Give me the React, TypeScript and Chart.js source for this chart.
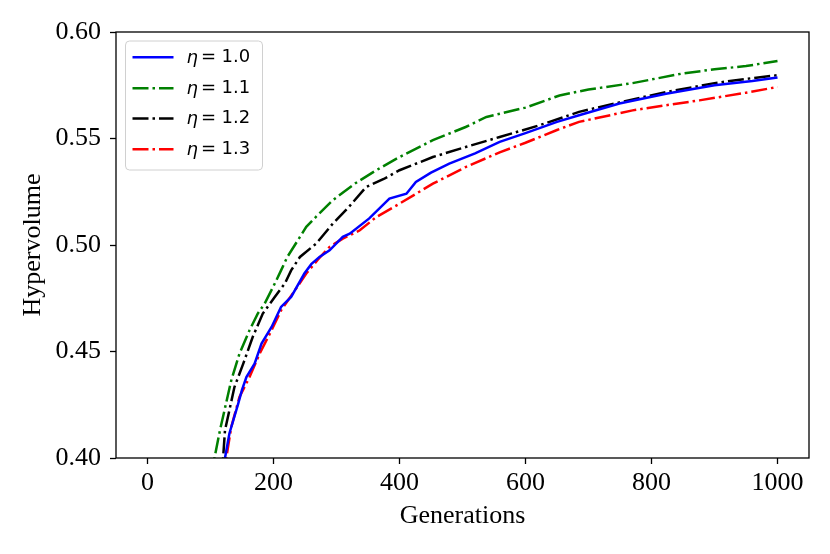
import React, { useEffect, useRef } from "react";
import { Chart, registerables } from "chart.js";

Chart.register(...registerables);

// ---------- data ----------
const seriesLabels = ["1.0", "1.1", "1.2", "1.3"];
const seriesColors = ["#0000ff", "#008000", "#000000", "#ff0000"];

const gens10 = [115, 123, 130, 144, 150, 157, 170, 181, 197, 212, 228, 249, 260, 273, 289, 310, 321, 352, 384, 411, 426, 450, 479, 520, 559, 600, 650, 685, 749, 823, 900, 960, 1000];
const hv10 = [0.39, 0.4, 0.4115, 0.4255, 0.432, 0.438, 0.4443, 0.4537, 0.4615, 0.4709, 0.4756, 0.4866, 0.491, 0.4944, 0.4975, 0.5038, 0.5053, 0.5125, 0.5218, 0.5241, 0.5296, 0.534, 0.5382, 0.543, 0.5484, 0.5525, 0.5578, 0.5609, 0.5664, 0.571, 0.575, 0.577, 0.5786];

const gens11 = [100, 107, 115, 133, 146, 162, 175, 186, 202, 212, 222, 242, 252, 270, 294, 330, 363, 400, 453, 505, 538, 600, 654, 700, 770, 849, 900, 950, 1000];
const hv11 = [0.39, 0.401, 0.413, 0.4365, 0.449, 0.46, 0.4678, 0.4725, 0.4819, 0.4881, 0.4944, 0.5038, 0.5085, 0.514, 0.521, 0.529, 0.5351, 0.5413, 0.5492, 0.5554, 0.5601, 0.5645, 0.5702, 0.573, 0.576, 0.5805, 0.5825, 0.584, 0.5864];

const gens12 = [112, 120, 123, 138, 152, 167, 183, 202, 218, 228, 242, 268, 294, 320, 347, 375, 400, 453, 505, 559, 620, 685, 750, 823, 900, 950, 1000];
const hv12 = [0.39, 0.4, 0.413, 0.4333, 0.4443, 0.4568, 0.4678, 0.4756, 0.4819, 0.4881, 0.4944, 0.5007, 0.51, 0.518, 0.5272, 0.531, 0.5351, 0.5413, 0.546, 0.5507, 0.556, 0.5625, 0.567, 0.5718, 0.576, 0.578, 0.5797];

const gens13 = [119, 125, 133, 146, 162, 178, 197, 212, 234, 252, 270, 289, 310, 337, 363, 400, 453, 505, 559, 600, 650, 685, 770, 820, 876, 950, 1000];
const hv13 = [0.39, 0.4, 0.4146, 0.4287, 0.438, 0.449, 0.46, 0.4693, 0.4787, 0.4866, 0.493, 0.4991, 0.503, 0.5069, 0.5131, 0.5194, 0.5288, 0.5366, 0.5435, 0.548, 0.554, 0.5578, 0.5632, 0.5655, 0.5679, 0.5715, 0.5742];

const xTicks = [0, 200, 400, 600, 800, 1000];
const yTicks = [0.4, 0.45, 0.5, 0.55, 0.6];

const seriesGens = [gens10, gens11, gens12, gens13];
const seriesValues = [hv10, hv11, hv12, hv13];
const seriesDash = [[], [16, 4, 2.5, 4], [16, 4, 2.5, 4], [16, 4, 2.5, 4]];

const tickFont = { family: "'Liberation Serif', 'Times New Roman', serif", size: 26, lineHeight: 1.0 };

const framePlugin = {
  id: "frameAndLegend",
  afterDatasetsDraw(chart: any) {
    const { ctx, chartArea: a } = chart;
    ctx.save();
    // frame
    ctx.strokeStyle = "#000";
    ctx.lineWidth = 1.3;
    ctx.setLineDash([]);
    ctx.strokeRect(a.left, a.top, a.right - a.left, a.bottom - a.top);

    // legend box
    const bx = a.left + 9.5;
    const by = a.top + 9;
    const bw = 137;
    const bh = 129;
    const r = 4;
    ctx.beginPath();
    ctx.moveTo(bx + r, by);
    ctx.lineTo(bx + bw - r, by);
    ctx.quadraticCurveTo(bx + bw, by, bx + bw, by + r);
    ctx.lineTo(bx + bw, by + bh - r);
    ctx.quadraticCurveTo(bx + bw, by + bh, bx + bw - r, by + bh);
    ctx.lineTo(bx + r, by + bh);
    ctx.quadraticCurveTo(bx, by + bh, bx, by + bh - r);
    ctx.lineTo(bx, by + r);
    ctx.quadraticCurveTo(bx, by, bx + r, by);
    ctx.closePath();
    ctx.fillStyle = "rgba(255,255,255,0.85)";
    ctx.fill();
    ctx.strokeStyle = "#d0d0d0";
    ctx.lineWidth = 1;
    ctx.stroke();

    const rowY = [25.3, 56.3, 86.5, 117.3];
    chart.data.datasets.forEach((ds: any, i: number) => {
      const y = a.top + rowY[i];
      ctx.beginPath();
      ctx.strokeStyle = ds.borderColor;
      ctx.lineWidth = 2.5;
      ctx.setLineDash(ds.borderDash || []);
      ctx.moveTo(a.left + 16.5, y);
      ctx.lineTo(a.left + 57.5, y);
      ctx.stroke();
      ctx.setLineDash([]);
      ctx.fillStyle = "#000";
      ctx.textBaseline = "middle";
      ctx.textAlign = "left";
      ctx.font = "italic 18px 'DejaVu Sans'";
      ctx.fillText("η", a.left + 70.5, y + 1);
      ctx.font = "18px 'DejaVu Sans'";
      ctx.fillText("=", a.left + 85, y);
      ctx.fillText(seriesLabels[i], a.left + 105.5, y);
    });
    ctx.restore();
  },
};

export default function App() {
  const canvasRef = useRef<HTMLCanvasElement | null>(null);

  useEffect(() => {
    document.body.style.margin = "0";
    const canvas = canvasRef.current;
    if (!canvas) return;
    const chart = new Chart(canvas, {
      type: "line",
      data: {
        datasets: seriesLabels.map((lab, i) => ({
          label: "η = " + lab,
          data: seriesGens[i].map((g, k) => ({ x: g, y: seriesValues[i][k] })),
          borderColor: seriesColors[i],
          backgroundColor: seriesColors[i],
          borderWidth: 2.5,
          borderDash: seriesDash[i],
          borderCapStyle: "butt",
          pointRadius: 0,
          tension: 0,
          fill: false,
        })),
      },
      options: {
        animation: false,
        responsive: false,
        maintainAspectRatio: false,
        layout: { padding: { top: 32, right: 21, left: 0, bottom: 0 } },
        plugins: { legend: { display: false }, tooltip: { enabled: false } },
        scales: {
          x: {
            type: "linear",
            min: -50,
            max: 1050,
            afterBuildTicks: (axis: any) => {
              axis.ticks = xTicks.map((v) => ({ value: v }));
            },
            afterFit: (axis: any) => {
              axis.height = 96;
            },
            grid: { display: true, drawOnChartArea: false, drawTicks: true, tickLength: 6, tickWidth: 1.3, tickColor: "#000" },
            border: { display: false },
            ticks: { color: "#000", font: tickFont, padding: 6, maxRotation: 0, callback: (v: any) => String(v) },
            title: { display: true, text: "Generations", color: "#000", font: tickFont, padding: { top: 0, bottom: 25 } },
          },
          y: {
            type: "linear",
            min: 0.4,
            max: 0.6,
            afterBuildTicks: (axis: any) => {
              axis.ticks = yTicks.map((v) => ({ value: v }));
            },
            afterFit: (axis: any) => {
              axis.width = 116;
            },
            grid: { display: true, drawOnChartArea: false, drawTicks: true, tickLength: 6, tickWidth: 1.3, tickColor: "#000" },
            border: { display: false },
            ticks: { color: "#000", font: tickFont, padding: 9, callback: (v: any) => Number(v).toFixed(2) },
            title: { display: true, text: "Hypervolume", color: "#000", font: tickFont, padding: { top: 20, bottom: 0 } },
          },
        },
      },
      plugins: [framePlugin],
    } as any);
    return () => chart.destroy();
  }, []);

  return (
    <div style={{ width: 830, height: 554, position: "relative", background: "#fff" }}>
      <canvas ref={canvasRef} width={830} height={554} style={{ width: 830, height: 554, display: "block" }} />
    </div>
  );
}
